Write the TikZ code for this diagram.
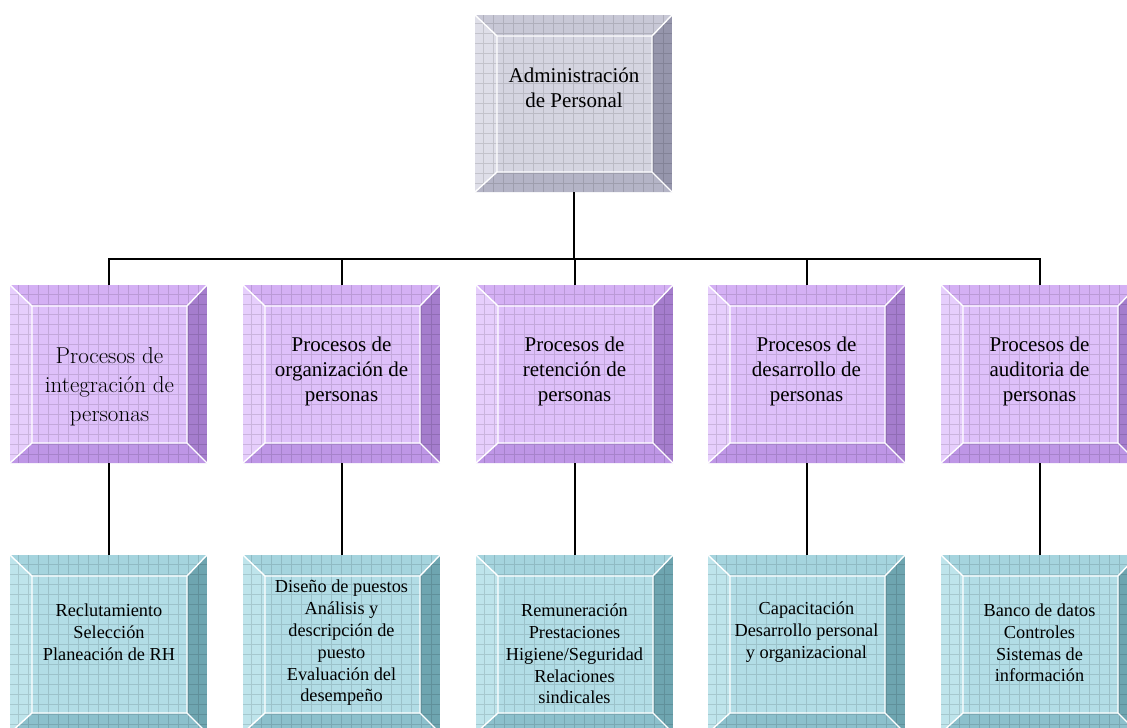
\documentclass[tikz,border=0pt]{standalone}
\usepackage{fontspec}
\newfontfamily\tnr{Liberation Serif}
\usetikzlibrary{calc}
\definecolor{gface}{RGB}{212,212,224}
\definecolor{gtop}{RGB}{200,200,214}
\definecolor{gleft}{RGB}{222,222,232}
\definecolor{gright}{RGB}{150,150,172}
\definecolor{gbot}{RGB}{180,180,198}
\definecolor{pface}{RGB}{222,192,250}
\definecolor{ptop}{RGB}{212,176,244}
\definecolor{pleft}{RGB}{230,206,252}
\definecolor{pright}{RGB}{165,125,205}
\definecolor{pbot}{RGB}{190,150,230}
\definecolor{tface}{RGB}{178,221,230}
\definecolor{ttop}{RGB}{165,212,222}
\definecolor{tleft}{RGB}{190,228,235}
\definecolor{tright}{RGB}{110,165,176}
\definecolor{tbot}{RGB}{140,192,204}
\newcommand\bevelfill[5]{%
  \path (path picture bounding box.north west) coordinate (bbNW)
        (path picture bounding box.north east) coordinate (bbNE)
        (path picture bounding box.south west) coordinate (bbSW)
        (path picture bounding box.south east) coordinate (bbSE);
  \path ($(bbNW)+(22,-21)$) coordinate (ibNW)
        ($(bbNE)+(-20,-21)$) coordinate (ibNE)
        ($(bbSW)+(22,20)$) coordinate (ibSW)
        ($(bbSE)+(-20,20)$) coordinate (ibSE);
  \fill[#4] (bbSW) rectangle (bbNE);
  \fill[#2] (bbNW) -- (bbNE) -- (ibNE) -- (ibNW) -- cycle;
  \fill[#3] (bbNW) -- (ibNW) -- (ibSW) -- (bbSW) -- cycle;
  \fill[#5] (bbSW) -- (ibSW) -- (ibSE) -- (bbSE) -- cycle;
  \fill[#1] (ibNW) rectangle (ibSE);
  \draw[gridfine] (bbSW) grid (bbNE);
  \draw[white, line width=1.4pt] (ibNW) rectangle (ibSE)
     (bbNW) -- (ibNW) (bbNE) -- (ibNE) (bbSW) -- (ibSW) (bbSE) -- (ibSE);
}
\tikzset{
  gridfine/.style={step=10pt, draw=black, draw opacity=0.12, line width=0.6pt},
  boxbase/.style={minimum width=197pt, inner sep=0pt, outer sep=0pt},
  gbox/.style={boxbase, minimum height=177pt, path picture={\bevelfill{gface}{gtop}{gleft}{gright}{gbot}}},
  pbox/.style={boxbase, minimum height=178pt, path picture={\bevelfill{pface}{ptop}{pleft}{pright}{pbot}}},
  tbox/.style={boxbase, minimum height=178pt, path picture={\bevelfill{tface}{ttop}{tleft}{tright}{tbot}}},
  bigtxt/.style={align=center, inner sep=0pt, font=\tnr\fontsize{21}{25}\selectfont},
  decotxt/.style={align=center, inner sep=0pt, font=\fontsize{23}{29}\selectfont},
  smalltxt/.style={align=center, inner sep=0pt, font=\tnr\fontsize{18.3}{21.8}\selectfont},
  conn/.style={draw=black, line width=2pt},
}
\begin{document}
\begin{tikzpicture}[x=1pt,y=1pt]
\useasboundingbox (0,0) rectangle (1127,-728);
\clip (0,0) rectangle (1127,-728);
\fill[white] (0,0) rectangle (1127,-728);
% top
\node[gbox] (adm) at (573.5,-103.5) {};
\node[bigtxt] (admt) at (574,-88) {Administración\\de Personal};
% purple
\node[pbox] (p1) at (108.5,-374) {};
\node[pbox] (p2) at (341.5,-374) {};
\node[pbox] (p3) at (574.5,-374) {};
\node[pbox] (p4) at (806.5,-374) {};
\node[pbox] (p5) at (1039.5,-374) {};
\node[decotxt] (p1t) at (109.5,-387) {Procesos de\\integración de\\personas};
\node[bigtxt] (p2t) at (341.5,-371) {Procesos de\\organización de\\personas};
\node[bigtxt] (p3t) at (574.5,-371) {Procesos de\\retención de\\personas};
\node[bigtxt] (p4t) at (806.5,-371) {Procesos de\\desarrollo de\\personas};
\node[bigtxt] (p5t) at (1039.5,-371) {Procesos de\\auditoria de\\personas};
% teal
\node[tbox] (t1) at (108.5,-644) {};
\node[tbox] (t2) at (341.5,-644) {};
\node[tbox] (t3) at (574.5,-644) {};
\node[tbox] (t4) at (806.5,-644) {};
\node[tbox] (t5) at (1039.5,-644) {};
\node[smalltxt] (t1t) at (109,-632) {Reclutamiento\\Selección\\Planeación de RH};
\node[smalltxt] (t2t) at (341.5,-643) {Diseño de puestos\\Análisis y\\descripción de\\puesto\\Evaluación del\\desempeño};
\node[smalltxt] (t3t) at (574.5,-654) {Remuneración\\Prestaciones\\Higiene/Seguridad\\Relaciones\\sindicales};
\node[smalltxt] (t4t) at (806.5,-632) {Capacitación\\Desarrollo personal\\y organizacional};
\node[smalltxt] (t5t) at (1039.5,-643) {Banco de datos\\Controles\\Sistemas de\\información};
% connectors
\coordinate (bus) at (0,-259);
\draw[conn] (adm.south) -- (adm.south |- bus);
\draw[conn] (p1.north) -- (p1.north |- bus) -- (p5.north |- bus) -- (p5.north);
\foreach \k in {2,3,4}{\draw[conn] (p\k.north) -- (p\k.north |- bus);}
\foreach \k in {1,...,5}{\draw[conn] (p\k.south) -- (t\k.north);}
\end{tikzpicture}
\end{document}
